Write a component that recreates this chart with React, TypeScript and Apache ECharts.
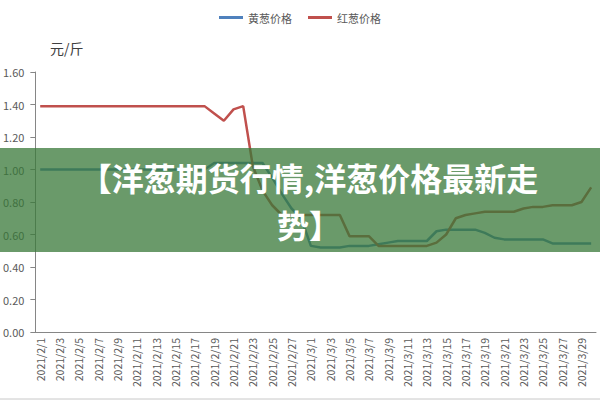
import * as echarts from "echarts";
import { useEffect, useRef } from "react";

const INK = "#595959";
const AXIS = "#868686";
const BLUE = "#4f81bd";
const RED = "#c0504d";

// daily categories 2021/2/1 .. 2021/3/30
const febDays = Array.from({ length: 28 }, (_, i) => `2021/2/${i + 1}`);
const marDays = Array.from({ length: 30 }, (_, i) => `2021/3/${i + 1}`);
const dates = [...febDays, ...marDays];

const yellowOnion = [
  1.0, 1.0, 1.0, 1.0, 1.0, 1.0, 1.0, 1.0, 1.0, 1.0,
  1.0, 1.0, 1.0, 1.0, 1.0, 1.0, 1.0, 1.0, 1.04, 1.04,
  1.04, 1.04, 1.04, 1.04, 0.95, 0.85, 0.76, 0.7, 0.53, 0.52,
  0.52, 0.52, 0.53, 0.53, 0.53, 0.54, 0.55, 0.56, 0.56, 0.56,
  0.56, 0.62, 0.63, 0.63, 0.63, 0.63, 0.61, 0.58, 0.57, 0.57,
  0.57, 0.57, 0.57, 0.545, 0.545, 0.545, 0.545, 0.545,
];

const redOnion = [
  1.39, 1.39, 1.39, 1.39, 1.39, 1.39, 1.39, 1.39, 1.39, 1.39,
  1.39, 1.39, 1.39, 1.39, 1.39, 1.39, 1.39, 1.39, 1.345, 1.3,
  1.37, 1.39, 1.02, 0.87, 0.78, 0.72, 0.72, 0.72, 0.72, 0.72,
  0.72, 0.72, 0.59, 0.59, 0.59, 0.53, 0.53, 0.53, 0.53, 0.53,
  0.53, 0.55, 0.6, 0.7, 0.72, 0.73, 0.74, 0.74, 0.74, 0.74,
  0.76, 0.77, 0.77, 0.78, 0.78, 0.78, 0.8, 0.89,
];

const seriesNames = ["黄葱价格", "红葱价格"];
const unitLabel = "元/斤";
const bannerTitle = "【洋葱期货行情,洋葱价格最新走\n势】";

export default function App() {
  const ref = useRef<HTMLDivElement>(null);

  useEffect(() => {
    const el = ref.current;
    if (!el) return;
    const chart = echarts.init(el, null, { renderer: "svg" });
    const font = "'Microsoft YaHei', 'Noto Sans CJK SC', 'Liberation Sans', sans-serif";
    chart.setOption({
      animation: false,
      backgroundColor: "#ffffff",
      textStyle: { fontFamily: font },
      legend: {
        top: 7,
        left: "center",
        icon: "rect",
        itemWidth: 24,
        itemHeight: 3,
        itemGap: 16,
        textStyle: { color: INK, fontSize: 11 },
        data: seriesNames,
      },
      grid: { left: 35, right: 4, top: 72, bottom: 68, containLabel: false },
      xAxis: {
        type: "category",
        data: dates,
        boundaryGap: true,
        axisLine: { lineStyle: { color: AXIS } },
        axisTick: { interval: 1, length: 5, lineStyle: { color: AXIS } },
        axisLabel: { interval: 1, rotate: 90, color: INK, fontSize: 10.5, margin: 6 },
      },
      yAxis: {
        type: "value",
        min: 0,
        max: 1.6,
        interval: 0.2,
        axisLine: { show: true, lineStyle: { color: AXIS } },
        axisTick: { show: true, length: 5, lineStyle: { color: AXIS } },
        splitLine: { show: false },
        axisLabel: {
          color: INK,
          fontSize: 11,
          margin: 11,
          formatter: (v: number) => v.toFixed(2),
        },
      },
      series: [
        {
          name: seriesNames[0],
          type: "line",
          data: yellowOnion,
          symbol: "none",
          lineStyle: { color: BLUE, width: 2.5 },
          itemStyle: { color: BLUE },
        },
        {
          name: seriesNames[1],
          type: "line",
          data: redOnion,
          symbol: "none",
          lineStyle: { color: RED, width: 2.5 },
          itemStyle: { color: RED },
        },
      ],
      graphic: [
        {
          type: "text",
          left: 50,
          top: 41,
          style: { text: unitLabel, fill: "#404040", fontSize: 14, fontFamily: font },
        },
        {
          type: "rect",
          z: 100,
          shape: { x: 0, y: 148, width: 600, height: 104 },
          style: { fill: "rgba(56,120,56,0.75)" },
        },
        {
          type: "text",
          z: 101,
          x: 309,
          y: 200,
          style: {
            text: bannerTitle,
            fill: "#ffffff",
            fontSize: 32,
            lineHeight: 47,
            fontWeight: "bold",
            fontFamily: "'Noto Sans CJK SC', sans-serif",
            align: "center",
            verticalAlign: "middle",
          },
        },
        {
          type: "line",
          shape: { x1: 0, y1: 399, x2: 600, y2: 399 },
          style: { stroke: "#c8c8c8", lineWidth: 1 },
        },
      ],
    });
    return () => chart.dispose();
  }, []);

  return (
    <div
      ref={ref}
      style={{ position: "fixed", left: 0, top: 0, width: 600, height: 400 }}
    />
  );
}
